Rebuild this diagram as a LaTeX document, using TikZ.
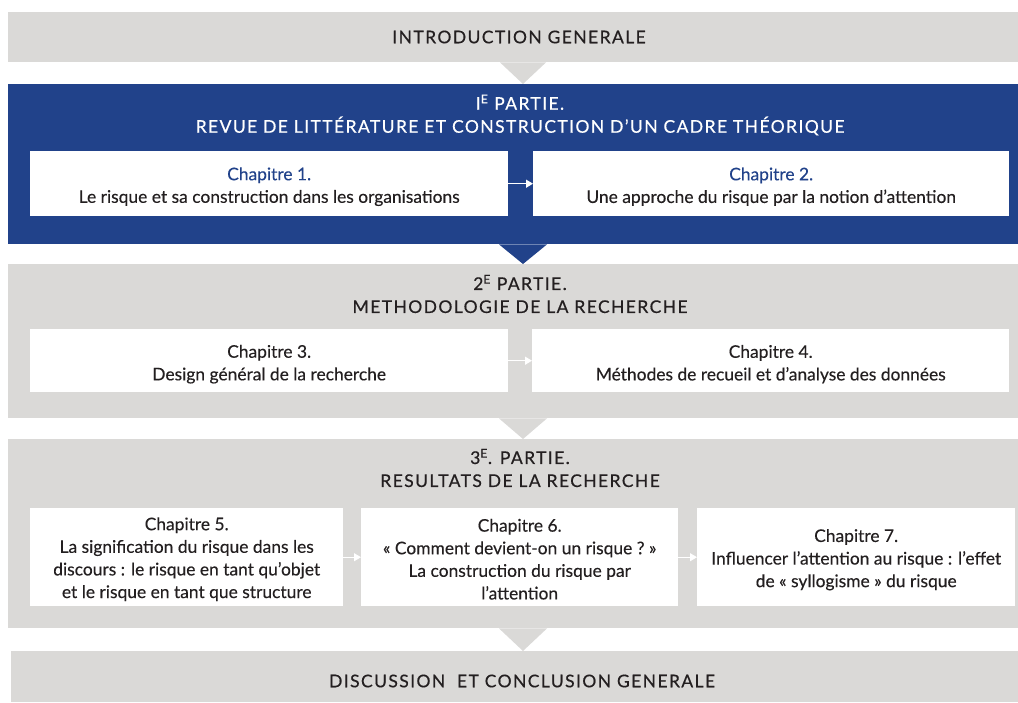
\documentclass[tikz,border=0pt]{standalone}
\usepackage{fontspec}
\setmainfont{Lato}[FakeBold=0.25]
\newfontfamily\capsfont[LetterSpace=8,FakeBold=0.5]{Lato}
\usetikzlibrary{arrows.meta,calc}
\definecolor{bandgray}{HTML}{DAD9D7}
\definecolor{partblue}{HTML}{21428A}
\definecolor{txt}{HTML}{231F20}
\begin{document}
\begin{tikzpicture}[x=1pt,y=-1pt,
  band/.style={fill=bandgray, draw=none, inner sep=0pt, anchor=north west},
  bluepart/.style={band, fill=partblue},
  chap/.style={fill=white, draw=none, inner sep=0pt, anchor=north west},
  chaptext/.style={inner sep=0pt, align=center, text=txt, font=\fontsize{17.4}{22.6}\selectfont},
  title/.style={inner sep=0pt, align=center, text=txt, font=\capsfont\fontsize{17.5}{23}\selectfont},
  flow/.style={draw=white, line width=1.4pt, -{Triangle[length=7pt,width=8pt]}},
  tri/.style={fill=bandgray, draw=none}]
\useasboundingbox (0,0) rectangle (1018,702);
\coordinate (m) at (523,0);
% bands
\node[band, minimum width=1010pt, minimum height=50pt] (intro) at (8,12) {};
\node[bluepart, minimum width=1010pt, minimum height=160pt] (p1) at (8,84) {};
\node[band, minimum width=1010pt, minimum height=154pt] (p2) at (8,264) {};
\node[band, minimum width=1010pt, minimum height=189pt] (p3) at (8,439) {};
\node[band, minimum width=1007pt, minimum height=51pt] (disc) at (11,651) {};
% triangles between bands
\fill[tri] ($(intro.south -| m)+(-23,0)$) -- ($(intro.south -| m)+(23,0)$) -- (p1.north -| m) -- cycle;
\fill[tri, fill=partblue] ($(p1.south -| m)+(-24,0)$) -- ($(p1.south -| m)+(24,0)$) -- (p2.north -| m) -- cycle;
\fill[tri] ($(p2.south -| m)+(-24,0)$) -- ($(p2.south -| m)+(24,0)$) -- (p3.north -| m) -- cycle;
\fill[tri] ($(p3.south -| m)+(-24,0)$) -- ($(p3.south -| m)+(24,0)$) -- (disc.north -| m) -- cycle;
% titles
\node[title] (introT) at (519,37) {INTRODUCTION GENERALE};
\node[title, text=white] (p1T) at (520,115) {I\textsuperscript{E} PARTIE.\\REVUE DE LITTÉRATURE ET CONSTRUCTION D’UN CADRE THÉORIQUE};
\node[title] (p2T) at (520,294) {2\textsuperscript{E} PARTIE.\\METHODOLOGIE DE LA RECHERCHE};
\node[title] (p3T) at (520,468) {3\textsuperscript{E}. PARTIE.\\RESULTATS DE LA RECHERCHE};
\node[title] (discT) at (522,681) {DISCUSSION\ \ ET CONCLUSION GENERALE};
% chapter boxes
\node[chap, minimum width=478pt, minimum height=65pt] (ch1) at (30,151) {};
\node[chap, minimum width=476pt, minimum height=65pt] (ch2) at (533,151) {};
\node[chap, minimum width=478pt, minimum height=63pt] (ch3) at (30,329) {};
\node[chap, minimum width=477pt, minimum height=63pt] (ch4) at (532,329) {};
\node[chap, minimum width=313pt, minimum height=98pt] (ch5) at (30,508) {};
\node[chap, minimum width=317pt, minimum height=98pt] (ch6) at (361,508) {};
\node[chap, minimum width=318pt, minimum height=98pt] (ch7) at (697,508) {};
% chapter texts
\node[chaptext] (ch1t) at ($(ch1.center)+(0,3)$) {\textcolor{partblue}{Chapitre 1.}\\Le risque et sa construction dans les organisations};
\node[chaptext] (ch2t) at ($(ch2.center)+(0,3)$) {\textcolor{partblue}{Chapitre 2.}\\Une approche du risque par la notion d’attention};
\node[chaptext] (ch3t) at ($(ch3.center)+(0,3.5)$) {Chapitre 3.\\Design général de la recherche};
\node[chaptext] (ch4t) at ($(ch4.center)+(0,3.5)$) {Chapitre 4.\\Méthodes de recueil et d’analyse des données};
\node[chaptext] (ch5t) at ($(ch5.center)+(0,2)$) {Chapitre 5.\\La signification du risque dans les\\discours~: le risque en tant qu’objet\\et le risque en tant que structure};
\node[chaptext] (ch6t) at ($(ch6.center)+(0,2)$) {Chapitre 6.\\«~Comment devient-on un risque~?~»\\La construction du risque par\\l’attention};
\node[chaptext] (ch7t) at ($(ch7.center)+(0,2.5)$) {Chapitre 7.\\Influencer l’attention au risque~: l’effet\\de «~syllogisme~» du risque};
% arrows
\draw[flow] (ch1) -- (ch2);
\draw[flow] (ch3) -- (ch4);
\draw[flow, line width=1pt] (ch5) -- (ch6);
\draw[flow, line width=1pt] (ch6) -- (ch7);
\end{tikzpicture}
\end{document}
